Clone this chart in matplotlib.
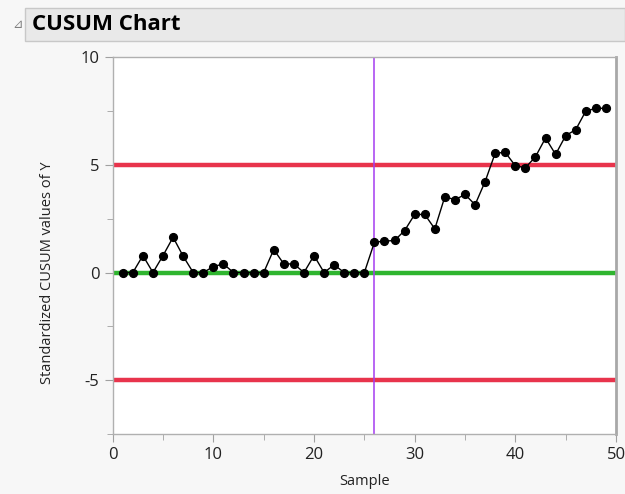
import numpy as np
import matplotlib.pyplot as plt
from matplotlib.patches import Rectangle
from matplotlib.ticker import MultipleLocator

plt.rcParams["axes.unicode_minus"] = False

# CUSUM values per sample (standardized)
samples = list(range(1, 50))
cusum = [0.0, 0.0, 0.79, 0.0, 0.79, 1.64, 0.76, 0.0, 0.0, 0.28,
         0.40, 0.0, 0.0, 0.0, 0.0, 1.07, 0.40, 0.40, 0.0, 0.79,
         0.0, 0.36, 0.0, 0.0, 0.0, 1.41, 1.46, 1.49, 1.95, 2.70,
         2.70, 2.03, 3.53, 3.38, 3.63, 3.15, 4.23, 5.55, 5.58, 4.96,
         4.87, 5.38, 6.25, 5.49, 6.36, 6.64, 7.50, 7.63, 7.63]

upper_limit = 5
lower_limit = -5
center = 0
shift_sample = 26

fig = plt.figure(figsize=(6.25, 4.94), dpi=100)
fig.patch.set_facecolor("#f7f7f7")

# header bar
fig.patches.append(Rectangle((25 / 625, 1 - 41 / 494), 600 / 625, 33 / 494,
                             transform=fig.transFigure, facecolor="#e9e9e9",
                             edgecolor="#c8c8c8", linewidth=1))
fig.text(12 / 625, 1 - 25 / 494, "⊿", color="#808080", fontsize=9, va="center")
fig.text(32 / 625, 1 - 25 / 494, "CUSUM Chart", fontsize=16, fontweight="bold",
         va="center", family="Open Sans")

ax = fig.add_axes([112.7 / 625, 1 - 434 / 494, (616 - 112.7) / 625, (434 - 57.3) / 494])
ax.set_facecolor("white")

ax.axhline(upper_limit, color="#e8344c", linewidth=3.2, zorder=2)
ax.axhline(lower_limit, color="#e8344c", linewidth=3.2, zorder=2)
ax.axhline(center, color="#2fb52f", linewidth=3.2, zorder=2)
ax.axvline(shift_sample, color="#a43cf0", linewidth=1.1, zorder=2)

ax.plot(samples, cusum, color="black", linewidth=1, marker="o", markersize=5.6, zorder=3)

ax.set_xlim(0, 50)
ax.set_ylim(-7.5, 10)
ax.xaxis.set_major_locator(MultipleLocator(10))
ax.xaxis.set_minor_locator(MultipleLocator(5))
ax.yaxis.set_major_locator(MultipleLocator(5))
ax.yaxis.set_minor_locator(MultipleLocator(2.5))

for side in ["left", "bottom", "top"]:
    ax.spines[side].set_color("#b0b0b0")
    ax.spines[side].set_linewidth(1)
ax.spines["right"].set_color("#a8a8a8")
ax.spines["right"].set_linewidth(2)

ax.tick_params(which="both", direction="out", color="#a0a0a0", labelcolor="#222222",
               labelsize=12)
ax.tick_params(which="major", length=6)
ax.tick_params(which="minor", length=4)
for lab in ax.get_xticklabels() + ax.get_yticklabels():
    lab.set_family("Open Sans")

ax.set_xlabel("Sample", fontsize=10.5, color="#222222", family="Open Sans", labelpad=8)
ax.set_ylabel("Standardized CUSUM values of Y", fontsize=10.5, color="#222222",
              family="Open Sans")
ax.yaxis.set_label_coords(-0.115, 0.429)

fig.savefig("out.png", dpi=100, facecolor=fig.get_facecolor())
